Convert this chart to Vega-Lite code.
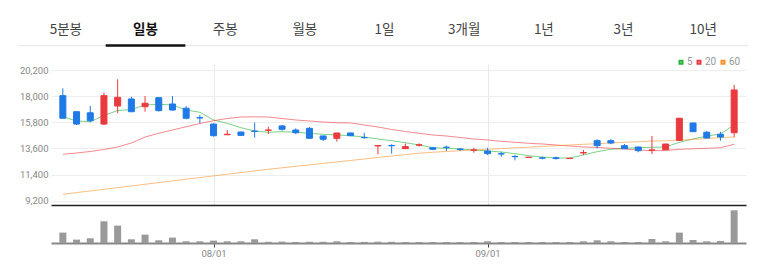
{
  "$schema": "https://vega.github.io/schema/vega-lite/v6.json",
  "padding": {"left": 18, "top": 0, "right": 0, "bottom": 0},
  "background": "white",
  "bounds": "flush",
  "spacing": 0,
  "config": {"view": {"stroke": null}, "font": "Roboto"},
  "resolve": {"scale": {"color": "independent"}, "legend": {"color": "independent"}},
  "datasets": {
    "tabs": [
      {"tab": "5분봉", "selected": false},
      {"tab": "일봉", "selected": true},
      {"tab": "주봉", "selected": false},
      {"tab": "월봉", "selected": false},
      {"tab": "1일", "selected": false},
      {"tab": "3개월", "selected": false},
      {"tab": "1년", "selected": false},
      {"tab": "3년", "selected": false},
      {"tab": "10년", "selected": false}
    ],
    "tabline": [{"line": "baseline"}],
    "candles": [
      {"i": 0, "open": 18040, "high": 18660, "low": 16100, "close": 16140, "vol": 520000},
      {"i": 1, "open": 16690, "high": 16700, "low": 15570, "close": 15650, "vol": 170000},
      {"i": 2, "open": 16600, "high": 17170, "low": 15800, "close": 15930, "vol": 235000},
      {"i": 3, "open": 15650, "high": 18290, "low": 15570, "close": 18040, "vol": 1085000},
      {"i": 4, "open": 17170, "high": 19420, "low": 16560, "close": 17900, "vol": 870000},
      {"i": 5, "open": 17760, "high": 17950, "low": 16650, "close": 16690, "vol": 185000},
      {"i": 6, "open": 17110, "high": 18010, "low": 16690, "close": 17400, "vol": 420000},
      {"i": 7, "open": 17870, "high": 17900, "low": 16700, "close": 16780, "vol": 135000},
      {"i": 8, "open": 17340, "high": 18010, "low": 16780, "close": 16830, "vol": 270000},
      {"i": 9, "open": 16980, "high": 17170, "low": 16050, "close": 16140, "vol": 85000},
      {"i": 10, "open": 16190, "high": 16410, "low": 15710, "close": 16160, "vol": 85000},
      {"i": 11, "open": 15650, "high": 15700, "low": 14600, "close": 14670, "vol": 120000},
      {"i": 12, "open": 14750, "high": 15150, "low": 14750, "close": 14790, "vol": 85000},
      {"i": 13, "open": 14980, "high": 15000, "low": 14650, "close": 14700, "vol": 85000},
      {"i": 14, "open": 15060, "high": 15770, "low": 14500, "close": 15030, "vol": 185000},
      {"i": 15, "open": 15130, "high": 15430, "low": 14810, "close": 15150, "vol": 60000},
      {"i": 16, "open": 15490, "high": 15570, "low": 15090, "close": 15210, "vol": 70000},
      {"i": 17, "open": 15150, "high": 15290, "low": 14790, "close": 14920, "vol": 50000},
      {"i": 18, "open": 15290, "high": 15400, "low": 14420, "close": 14450, "vol": 65000},
      {"i": 19, "open": 14650, "high": 14650, "low": 14230, "close": 14370, "vol": 60000},
      {"i": 20, "open": 14450, "high": 14900, "low": 14170, "close": 14900, "vol": 85000},
      {"i": 21, "open": 14900, "high": 14920, "low": 14650, "close": 14670, "vol": 50000},
      {"i": 22, "open": 14520, "high": 14920, "low": 14420, "close": 14500, "vol": 55000},
      {"i": 23, "open": 13810, "high": 13860, "low": 13100, "close": 13840, "vol": 65000},
      {"i": 24, "open": 13850, "high": 13950, "low": 13160, "close": 13820, "vol": 60000},
      {"i": 25, "open": 13580, "high": 14020, "low": 13560, "close": 13750, "vol": 50000},
      {"i": 26, "open": 13880, "high": 14030, "low": 13750, "close": 13900, "vol": 50000},
      {"i": 27, "open": 13660, "high": 13690, "low": 13500, "close": 13530, "vol": 50000},
      {"i": 28, "open": 13700, "high": 13830, "low": 13380, "close": 13690, "vol": 50000},
      {"i": 29, "open": 13550, "high": 13610, "low": 13380, "close": 13520, "vol": 50000},
      {"i": 30, "open": 13450, "high": 13660, "low": 13240, "close": 13470, "vol": 50000},
      {"i": 31, "open": 13380, "high": 13660, "low": 13050, "close": 13160, "vol": 85000},
      {"i": 32, "open": 13150, "high": 13320, "low": 12900, "close": 13130, "vol": 50000},
      {"i": 33, "open": 12920, "high": 13050, "low": 12600, "close": 12900, "vol": 50000},
      {"i": 34, "open": 12840, "high": 12880, "low": 12820, "close": 12860, "vol": 50000},
      {"i": 35, "open": 12800, "high": 12900, "low": 12680, "close": 12780, "vol": 50000},
      {"i": 36, "open": 12810, "high": 12920, "low": 12650, "close": 12750, "vol": 50000},
      {"i": 37, "open": 12750, "high": 12800, "low": 12720, "close": 12770, "vol": 50000},
      {"i": 38, "open": 13220, "high": 13470, "low": 13050, "close": 13250, "vol": 85000},
      {"i": 39, "open": 14250, "high": 14370, "low": 13610, "close": 13830, "vol": 135000},
      {"i": 40, "open": 14250, "high": 14370, "low": 13950, "close": 14060, "vol": 85000},
      {"i": 41, "open": 13830, "high": 13970, "low": 13560, "close": 13580, "vol": 50000},
      {"i": 42, "open": 13720, "high": 13740, "low": 13270, "close": 13410, "vol": 50000},
      {"i": 43, "open": 13450, "high": 14650, "low": 13130, "close": 13470, "vol": 200000},
      {"i": 44, "open": 13490, "high": 14000, "low": 13470, "close": 13970, "vol": 85000},
      {"i": 45, "open": 14280, "high": 16170, "low": 14250, "close": 16140, "vol": 520000},
      {"i": 46, "open": 15740, "high": 15760, "low": 14980, "close": 15010, "vol": 150000},
      {"i": 47, "open": 14960, "high": 15070, "low": 14450, "close": 14480, "vol": 85000},
      {"i": 48, "open": 14790, "high": 15010, "low": 14250, "close": 14560, "vol": 100000},
      {"i": 49, "open": 14920, "high": 18940, "low": 14540, "close": 18520, "vol": 1635000}
    ],
    "ma": [
      {"i": 0, "ma": "5", "v": 16270}, {"i": 1, "ma": "5", "v": 15908}, {"i": 2, "ma": "5", "v": 15850}, {"i": 3, "ma": "5", "v": 16370}, {"i": 4, "ma": "5", "v": 16791},
      {"i": 5, "ma": "5", "v": 16876}, {"i": 6, "ma": "5", "v": 17255}, {"i": 7, "ma": "5", "v": 17313}, {"i": 8, "ma": "5", "v": 17255}, {"i": 9, "ma": "5", "v": 16834},
      {"i": 10, "ma": "5", "v": 16640}, {"i": 11, "ma": "5", "v": 15992}, {"i": 12, "ma": "5", "v": 15714}, {"i": 13, "ma": "5", "v": 15344}, {"i": 14, "ma": "5", "v": 15066},
      {"i": 15, "ma": "5", "v": 14957}, {"i": 16, "ma": "5", "v": 15007}, {"i": 17, "ma": "5", "v": 14957}, {"i": 18, "ma": "5", "v": 14873}, {"i": 19, "ma": "5", "v": 14789},
      {"i": 20, "ma": "5", "v": 14730}, {"i": 21, "ma": "5", "v": 14671}, {"i": 22, "ma": "5", "v": 14561}, {"i": 23, "ma": "5", "v": 14393}, {"i": 24, "ma": "5", "v": 14250},
      {"i": 25, "ma": "5", "v": 14082}, {"i": 26, "ma": "5", "v": 13888}, {"i": 27, "ma": "5", "v": 13661}, {"i": 28, "ma": "5", "v": 13610}, {"i": 29, "ma": "5", "v": 13552},
      {"i": 30, "ma": "5", "v": 13468}, {"i": 31, "ma": "5", "v": 13383}, {"i": 32, "ma": "5", "v": 13299}, {"i": 33, "ma": "5", "v": 13156}, {"i": 34, "ma": "5", "v": 12988},
      {"i": 35, "ma": "5", "v": 12878}, {"i": 36, "ma": "5", "v": 12794}, {"i": 37, "ma": "5", "v": 12794}, {"i": 38, "ma": "5", "v": 13047}, {"i": 39, "ma": "5", "v": 13324},
      {"i": 40, "ma": "5", "v": 13526}, {"i": 41, "ma": "5", "v": 13610}, {"i": 42, "ma": "5", "v": 13661}, {"i": 43, "ma": "5", "v": 13695}, {"i": 44, "ma": "5", "v": 13720},
      {"i": 45, "ma": "5", "v": 14115}, {"i": 46, "ma": "5", "v": 14393}, {"i": 47, "ma": "5", "v": 14645}, {"i": 48, "ma": "5", "v": 14814}, {"i": 49, "ma": "5", "v": 15571},
      {"i": 0, "ma": "20", "v": 13105}, {"i": 1, "ma": "20", "v": 13215}, {"i": 2, "ma": "20", "v": 13341}, {"i": 3, "ma": "20", "v": 13509}, {"i": 4, "ma": "20", "v": 13720},
      {"i": 5, "ma": "20", "v": 14056}, {"i": 6, "ma": "20", "v": 14561}, {"i": 7, "ma": "20", "v": 14873}, {"i": 8, "ma": "20", "v": 15150}, {"i": 9, "ma": "20", "v": 15428},
      {"i": 10, "ma": "20", "v": 15697}, {"i": 11, "ma": "20", "v": 15933}, {"i": 12, "ma": "20", "v": 16118}, {"i": 13, "ma": "20", "v": 16244}, {"i": 14, "ma": "20", "v": 16261},
      {"i": 15, "ma": "20", "v": 16244}, {"i": 16, "ma": "20", "v": 16118}, {"i": 17, "ma": "20", "v": 15992}, {"i": 18, "ma": "20", "v": 15908}, {"i": 19, "ma": "20", "v": 15824},
      {"i": 20, "ma": "20", "v": 15765}, {"i": 21, "ma": "20", "v": 15740}, {"i": 22, "ma": "20", "v": 15571}, {"i": 23, "ma": "20", "v": 15403}, {"i": 24, "ma": "20", "v": 15192},
      {"i": 25, "ma": "20", "v": 15024}, {"i": 26, "ma": "20", "v": 14873}, {"i": 27, "ma": "20", "v": 14730}, {"i": 28, "ma": "20", "v": 14645}, {"i": 29, "ma": "20", "v": 14519},
      {"i": 30, "ma": "20", "v": 14393}, {"i": 31, "ma": "20", "v": 14309}, {"i": 32, "ma": "20", "v": 14199}, {"i": 33, "ma": "20", "v": 14115}, {"i": 34, "ma": "20", "v": 14031},
      {"i": 35, "ma": "20", "v": 13972}, {"i": 36, "ma": "20", "v": 13888}, {"i": 37, "ma": "20", "v": 13804}, {"i": 38, "ma": "20", "v": 13720}, {"i": 39, "ma": "20", "v": 13678},
      {"i": 40, "ma": "20", "v": 13610}, {"i": 41, "ma": "20", "v": 13551}, {"i": 42, "ma": "20", "v": 13467}, {"i": 43, "ma": "20", "v": 13408}, {"i": 44, "ma": "20", "v": 13425},
      {"i": 45, "ma": "20", "v": 13526}, {"i": 46, "ma": "20", "v": 13568}, {"i": 47, "ma": "20", "v": 13610}, {"i": 48, "ma": "20", "v": 13661}, {"i": 49, "ma": "20", "v": 13947},
      {"i": 0, "ma": "60", "v": 9739}, {"i": 1, "ma": "60", "v": 9882}, {"i": 2, "ma": "60", "v": 10017}, {"i": 3, "ma": "60", "v": 10160}, {"i": 4, "ma": "60", "v": 10303},
      {"i": 5, "ma": "60", "v": 10437}, {"i": 6, "ma": "60", "v": 10581}, {"i": 7, "ma": "60", "v": 10724}, {"i": 8, "ma": "60", "v": 10867}, {"i": 9, "ma": "60", "v": 11010},
      {"i": 10, "ma": "60", "v": 11144}, {"i": 11, "ma": "60", "v": 11287}, {"i": 12, "ma": "60", "v": 11430}, {"i": 13, "ma": "60", "v": 11565}, {"i": 14, "ma": "60", "v": 11708},
      {"i": 15, "ma": "60", "v": 11843}, {"i": 16, "ma": "60", "v": 11969}, {"i": 17, "ma": "60", "v": 12095}, {"i": 18, "ma": "60", "v": 12213}, {"i": 19, "ma": "60", "v": 12339},
      {"i": 20, "ma": "60", "v": 12466}, {"i": 21, "ma": "60", "v": 12584}, {"i": 22, "ma": "60", "v": 12710}, {"i": 23, "ma": "60", "v": 12836}, {"i": 24, "ma": "60", "v": 12962},
      {"i": 25, "ma": "60", "v": 13080}, {"i": 26, "ma": "60", "v": 13198}, {"i": 27, "ma": "60", "v": 13274}, {"i": 28, "ma": "60", "v": 13341}, {"i": 29, "ma": "60", "v": 13408},
      {"i": 30, "ma": "60", "v": 13467}, {"i": 31, "ma": "60", "v": 13526}, {"i": 32, "ma": "60", "v": 13585}, {"i": 33, "ma": "60", "v": 13652}, {"i": 34, "ma": "60", "v": 13703},
      {"i": 35, "ma": "60", "v": 13770}, {"i": 36, "ma": "60", "v": 13829}, {"i": 37, "ma": "60", "v": 13888}, {"i": 38, "ma": "60", "v": 13947}, {"i": 39, "ma": "60", "v": 13997},
      {"i": 40, "ma": "60", "v": 14056}, {"i": 41, "ma": "60", "v": 14115}, {"i": 42, "ma": "60", "v": 14166}, {"i": 43, "ma": "60", "v": 14225}, {"i": 44, "ma": "60", "v": 14242},
      {"i": 45, "ma": "60", "v": 14284}, {"i": 46, "ma": "60", "v": 14359}, {"i": 47, "ma": "60", "v": 14435}, {"i": 48, "ma": "60", "v": 14502}, {"i": 49, "ma": "60", "v": 14561}
    ]
  },
  "vconcat": [
    {
      "width": 695,
      "height": 64,
      "resolve": {"scale": {"x": "independent"}},
      "layer": [
        {
          "data": {"name": "tabline"},
          "mark": {"type": "rule", "color": "#e3e3e3", "strokeWidth": 1},
          "encoding": {
            "x": {"datum": 0, "type": "quantitative", "scale": {"domain": [0, 1], "range": [-32, 697], "nice": false, "zero": false}, "axis": null},
            "x2": {"datum": 1},
            "y": {"datum": 0.286, "type": "quantitative", "scale": {"domain": [0, 1], "nice": false}, "axis": null}
          }
        },
        {
          "data": {"name": "tabs"},
          "transform": [{"filter": "!datum.selected"}],
          "mark": {"type": "text", "font": "Noto Sans CJK KR", "fontSize": 13.5, "color": "#444", "baseline": "middle", "align": "center"},
          "encoding": {
            "x": {"field": "tab", "type": "nominal", "sort": null, "scale": {"type": "band", "domain": ["5분봉", "일봉", "주봉", "월봉", "1일", "3개월", "1년", "3년", "10년"], "range": [-25, 692], "paddingInner": 0, "paddingOuter": 0}, "axis": null},
            "y": {"datum": 0.53, "type": "quantitative", "scale": {"domain": [0, 1], "nice": false}, "axis": null},
            "text": {"field": "tab"}
          }
        },
        {
          "data": {"name": "tabs"},
          "transform": [{"filter": "datum.selected"}],
          "mark": {"type": "text", "font": "Noto Sans CJK KR", "fontSize": 13.5, "fontWeight": "bold", "color": "#111", "baseline": "middle", "align": "center"},
          "encoding": {
            "x": {"field": "tab", "type": "nominal", "sort": null, "scale": {"type": "band", "domain": ["5분봉", "일봉", "주봉", "월봉", "1일", "3개월", "1년", "3년", "10년"], "range": [-25, 692], "paddingInner": 0, "paddingOuter": 0}, "axis": null},
            "y": {"datum": 0.53, "type": "quantitative", "scale": {"domain": [0, 1], "nice": false}, "axis": null},
            "text": {"field": "tab"}
          }
        },
        {
          "data": {"name": "tabs"},
          "transform": [{"filter": "datum.selected"}],
          "mark": {"type": "bar", "color": "#111"},
          "encoding": {
            "x": {"field": "tab", "type": "nominal", "sort": null, "scale": {"type": "band", "domain": ["5분봉", "일봉", "주봉", "월봉", "1일", "3개월", "1년", "3년", "10년"], "range": [-25, 692], "paddingInner": 0, "paddingOuter": 0}, "axis": null},
            "y": {"datum": 0.308, "type": "quantitative", "scale": {"domain": [0, 1], "nice": false}, "axis": null},
            "y2": {"datum": 0.27}
          }
        }
      ]
    },
    {
      "width": 695,
      "height": 141,
      "encoding": {
        "x": {"field": "i", "type": "quantitative", "scale": {"domain": [-0.5, 49.5], "nice": false, "zero": false},
          "axis": {"values": [11, 31], "grid": true, "gridColor": "#e8e8e8", "labels": false, "ticks": false, "domain": true, "domainColor": "#222", "domainWidth": 1.5, "title": null}}
      },
      "layer": [
        {
          "data": {"name": "ma"},
          "mark": {"type": "line", "strokeWidth": 1, "opacity": 0.6},
          "encoding": {
            "y": {"field": "v", "type": "quantitative", "scale": {"domain": [8838, 20705], "nice": false, "zero": false},
              "axis": {"values": [9200, 11400, 13600, 15800, 18000, 20200], "labelExpr": "format(datum.value, ',')", "labelOverlap": false, "grid": true, "gridColor": "#eeeeee", "domain": false, "ticks": false, "labelColor": "#888", "labelFontSize": 9.5, "labelFont": "Roboto", "labelPadding": 3, "title": null}},
            "color": {"field": "ma", "type": "nominal", "scale": {"domain": ["5", "20", "60"], "range": ["#25b33a", "#ec3a44", "#f5922f"]},
              "legend": {"orient": "none", "legendX": 625, "legendY": -7, "direction": "horizontal", "title": null, "symbolType": "square", "symbolSize": 9, "symbolStrokeWidth": 2, "symbolOpacity": 1, "labelFontSize": 10, "labelColor": "#999", "labelOffset": 1, "columnPadding": 0, "padding": 0}},
            "detail": {"field": "ma"}
          }
        },
        {
          "data": {"name": "candles"},
          "mark": {"type": "rule", "strokeWidth": 1},
          "encoding": {
            "y": {"field": "low", "type": "quantitative",
              "axis": {"values": [9200, 11400, 13600, 15800, 18000, 20200], "labelExpr": "format(datum.value, ',')", "labelOverlap": false, "grid": true, "gridColor": "#eeeeee", "domain": false, "ticks": false, "labelColor": "#888", "labelFontSize": 9.5, "labelFont": "Roboto", "labelPadding": 3, "title": null}},
            "y2": {"field": "high"},
            "color": {"condition": {"test": "datum.close >= datum.open", "value": "#ea3a3d"}, "value": "#1f7ae6"}
          }
        },
        {
          "data": {"name": "candles"},
          "mark": {"type": "bar", "size": 6, "strokeWidth": 1},
          "encoding": {
            "y": {"field": "open", "type": "quantitative",
              "axis": {"values": [9200, 11400, 13600, 15800, 18000, 20200], "labelExpr": "format(datum.value, ',')", "labelOverlap": false, "grid": true, "gridColor": "#eeeeee", "domain": false, "ticks": false, "labelColor": "#888", "labelFontSize": 9.5, "labelFont": "Roboto", "labelPadding": 3, "title": null}},
            "y2": {"field": "close"},
            "fill": {"condition": {"test": "datum.close >= datum.open", "value": "#ea3a3d"}, "value": "#1f7ae6"},
            "stroke": {"condition": {"test": "datum.close >= datum.open", "value": "#ea3a3d"}, "value": "#1f7ae6"}
          }
        }
      ]
    },
    {
      "width": 695,
      "height": 38,
      "data": {"name": "candles"},
      "mark": {"type": "bar", "size": 7, "color": "#9a9a9a"},
      "encoding": {
        "x": {"field": "i", "type": "quantitative", "scale": {"domain": [-0.5, 49.5], "nice": false, "zero": false},
          "axis": {"values": [11, 31], "labelExpr": "datum.value == 11 ? '08/01' : '09/01'", "grid": false, "domainColor": "#888", "domainWidth": 2, "tickColor": "#444", "tickSize": 4, "labelColor": "#888", "labelFontSize": 9.5, "labelFont": "Roboto", "labelPadding": 1, "title": null}},
        "y": {"field": "vol", "type": "quantitative", "scale": {"domain": [0, 1900000], "nice": false}, "axis": null}
      }
    }
  ]
}
